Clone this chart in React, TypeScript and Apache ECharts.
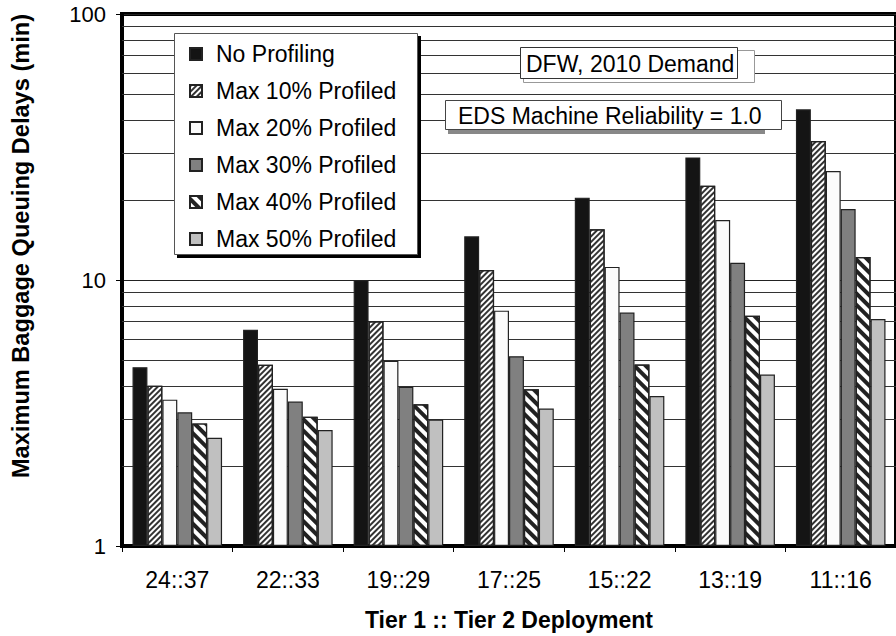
import React, { useEffect, useRef } from 'react';
import * as echarts from 'echarts';

const categories = ['24::37', '22::33', '19::29', '17::25', '15::22', '13::19', '11::16'];
const seriesNames = [
  'No Profiling',
  'Max 10% Profiled',
  'Max 20% Profiled',
  'Max 30% Profiled',
  'Max 40% Profiled',
  'Max 50% Profiled',
];
const noProfiling = [4.7, 6.5, 10.0, 14.6, 20.4, 28.9, 43.8];
const max10 = [4.0, 4.8, 7.0, 10.9, 15.5, 22.6, 33.3];
const max20 = [3.55, 3.9, 4.97, 7.67, 11.2, 16.8, 25.7];
const max30 = [3.18, 3.49, 3.97, 5.17, 7.54, 11.6, 18.5];
const max40 = [2.89, 3.06, 3.41, 3.88, 4.81, 7.34, 12.2];
const max50 = [2.55, 2.73, 2.99, 3.29, 3.66, 4.41, 7.13];
const minorGridValues = [2, 3, 4, 5, 6, 7, 8, 9, 20, 30, 40, 50, 60, 70, 80, 90];
const yMin = 1;
const yMax = 100;
const xTitle = 'Tier 1 :: Tier 2 Deployment';
const yTitle = 'Maximum Baggage Queuing Delays (min)';
const note1 = 'DFW, 2010 Demand';
const note2 = 'EDS Machine Reliability = 1.0';

const FONT = '"Liberation Sans", Arial, sans-serif';

const seriesData = [noProfiling, max10, max20, max30, max40, max50];

const itemStyles: any[] = [
  { color: '#141414' },
  {
    color: '#ffffff',
    decal: {
      symbol: 'rect',
      symbolSize: 1,
      dashArrayX: [1, 0],
      dashArrayY: [1.3, 1.7],
      rotation: -Math.PI / 4,
      color: '#333333',
    },
  },
  { color: '#fbfbfb' },
  { color: '#808080' },
  {
    color: '#ffffff',
    decal: {
      symbol: 'rect',
      symbolSize: 1,
      dashArrayX: [1, 0],
      dashArrayY: [3.3, 3.3],
      rotation: Math.PI / 4,
      color: '#222222',
    },
  },
  { color: '#c0c0c0' },
];

export default function App() {
  const ref = useRef<HTMLDivElement>(null);
  useEffect(() => {
    if (!ref.current) return;
    const chart = echarts.init(ref.current, undefined, { renderer: 'svg' });
    const series: any[] = seriesNames.map((name, i) => {
      const s: any = {
        name,
        type: 'bar',
        data: seriesData[i],
        barGap: '0%',
        barCategoryGap: '19%',
        z: 2,
        itemStyle: { ...itemStyles[i], borderColor: '#222', borderWidth: 1.2 },
      };
      if (i === 0) {
        s.markLine = {
          silent: true,
          z: 1,
          symbol: ['none', 'none'],
          label: { show: false },
          lineStyle: { color: '#333', width: 1, type: 'solid' },
          emphasis: { disabled: true },
          data: minorGridValues.map((v) => ({ yAxis: v })),
        };
      }
      return s;
    });
    chart.setOption({
      animation: false,
      backgroundColor: '#ffffff',
      textStyle: { fontFamily: FONT },
      grid: {
        left: 122,
        top: 14,
        width: 779,
        height: 533,
        show: true,
        borderColor: '#000',
        borderWidth: 4,
        backgroundColor: 'transparent',
      },
      legend: {
        data: seriesNames,
        orient: 'vertical',
        left: 189,
        top: 41,
        itemWidth: 12,
        itemHeight: 12,
        itemGap: 11,
        icon: 'rect',
        selectedMode: false,
        z: 20,
        padding: 0,
        textStyle: { fontSize: 23, lineHeight: 26, color: '#000', fontFamily: FONT, padding: [0, 0, 0, 9] },
      },
      xAxis: {
        type: 'category',
        data: categories,
        axisLine: { show: true, lineStyle: { color: '#000', width: 4 } },
        axisTick: { show: true, length: 6, lineStyle: { color: '#000', width: 1 } },
        axisLabel: { fontSize: 23, color: '#000', margin: 22, fontFamily: FONT },
        name: xTitle,
        nameLocation: 'middle',
        nameGap: 62,
        nameTextStyle: { fontSize: 23, fontWeight: 'bold', color: '#000', fontFamily: FONT },
        splitLine: { show: false },
      },
      yAxis: {
        type: 'log',
        logBase: 10,
        min: yMin,
        max: yMax,
        axisLine: { show: true, lineStyle: { color: '#000', width: 4 } },
        axisTick: { show: true, length: 6, lineStyle: { color: '#000', width: 1 } },
        axisLabel: { fontSize: 22, color: '#000', margin: 16, fontFamily: FONT },
        splitLine: { show: true, lineStyle: { color: '#222', width: 1 } },
      },
      graphic: [
        { type: 'rect', z: 10, shape: { x: 177, y: 36, width: 244, height: 222 }, style: { fill: '#000' } },
        {
          type: 'rect',
          z: 11,
          shape: { x: 174.5, y: 33.5, width: 243, height: 221 },
          style: { fill: '#fff', stroke: '#555', lineWidth: 1 },
        },
        {
          type: 'rect',
          z: 10,
          shape: { x: 523.5, y: 50.5, width: 231, height: 32 },
          style: { fill: '#fff', stroke: '#999', lineWidth: 1 },
        },
        {
          type: 'rect',
          z: 11,
          shape: { x: 520.5, y: 47.5, width: 217, height: 31 },
          style: { fill: '#fff', stroke: '#333', lineWidth: 1 },
        },
        {
          type: 'text',
          z: 12,
          x: 526,
          y: 64,
          style: {
            text: note1,
            font: `23px ${FONT}`,
            fill: '#000',
            textAlign: 'left',
            align: 'left',
            textVerticalAlign: 'middle',
            verticalAlign: 'middle',
          },
        },
        { type: 'rect', z: 10, shape: { x: 448, y: 104, width: 317, height: 30 }, style: { fill: '#888' } },
        {
          type: 'rect',
          z: 11,
          shape: { x: 445.5, y: 100.5, width: 336, height: 29 },
          style: { fill: '#fff', stroke: '#444', lineWidth: 1 },
        },
        {
          type: 'text',
          z: 12,
          x: 458,
          y: 116,
          style: {
            text: note2,
            font: `23px ${FONT}`,
            fill: '#000',
            textAlign: 'left',
            align: 'left',
            textVerticalAlign: 'middle',
            verticalAlign: 'middle',
          },
        },
        {
          type: 'text',
          z: 12,
          x: 21,
          y: 246,
          rotation: Math.PI / 2,
          style: {
            text: yTitle,
            font: `bold 23.6px ${FONT}`,
            fill: '#000',
            textAlign: 'center',
            align: 'center',
            textVerticalAlign: 'middle',
            verticalAlign: 'middle',
          },
        },
      ],
      series,
    });
    return () => chart.dispose();
  }, []);
  return (
    <div
      ref={ref}
      style={{ position: 'fixed', left: 0, top: 0, width: 896, height: 636, background: '#fff' }}
    />
  );
}
